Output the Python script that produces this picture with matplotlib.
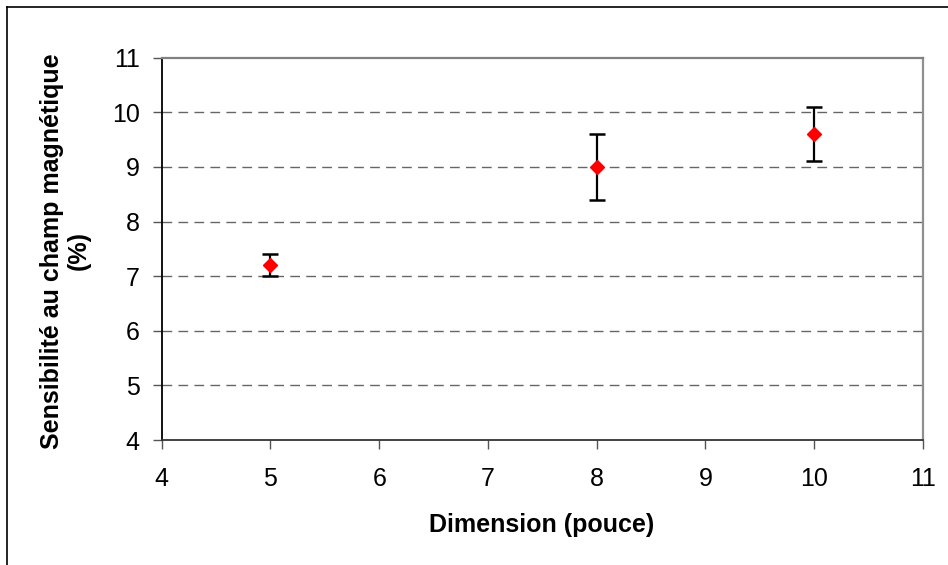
import matplotlib
matplotlib.use("Agg")
import matplotlib.pyplot as plt
from matplotlib.lines import Line2D

plt.rcParams['font.family'] = ['Liberation Sans', 'DejaVu Sans']

dimension = [5, 8, 10]
sensibilite = [7.2, 9.0, 9.6]
erreur = [0.2, 0.6, 0.5]
x_ticks = [4, 5, 6, 7, 8, 9, 10, 11]
y_ticks = [4, 5, 6, 7, 8, 9, 10, 11]

W, H = 948, 565
fig = plt.figure(figsize=(W/100, H/100), dpi=100)
ax = fig.add_axes([161.7/W, 1-440/H, (923-161.7)/W, (440-57.7)/H])

ax.set_xlim(4, 11)
ax.set_ylim(4, 11)
ax.set_xticks(x_ticks)
ax.set_yticks(y_ticks)

for yv in y_ticks[1:-1]:
    ax.axhline(yv, color='#666666', lw=1.0, ls=(0, (7, 4.5)), zorder=1)

ax.errorbar(dimension, sensibilite, yerr=erreur, fmt='none', ecolor='black',
            elinewidth=1.6, capsize=5.8, capthick=1.8, zorder=3)
ax.plot(dimension, sensibilite, ls='none', marker='D', ms=7, color='#ff0000',
        mec='#ff0000', zorder=4)

ax.spines['left'].set_color('black')
ax.spines['left'].set_linewidth(1.3)
ax.spines['bottom'].set_color('#333333')
ax.spines['bottom'].set_linewidth(1.3)
ax.spines['top'].set_color('#808080')
ax.spines['top'].set_linewidth(1.6)
ax.spines['right'].set_color('#909090')
ax.spines['right'].set_linewidth(1.6)

ax.tick_params(axis='both', direction='out', length=6.3, width=1.0,
               color='#555555', labelsize=18)
ax.tick_params(axis='y', pad=9.5)
ax.tick_params(axis='x', pad=13)

fig.text(541.5/W, 1-532/H, 'Dimension (pouce)', fontsize=18, fontweight='bold',
         ha='center', va='baseline')
fig.text(65/W, 1-251/H, 'Sensibilité au champ magnétique\n(%)', fontsize=18,
         fontweight='bold', ha='center', va='center', rotation=90,
         multialignment='center', linespacing=1.15)

fig.add_artist(Line2D([7/W, 7/W], [0, 1-7/H], color='black', lw=1.2,
                      transform=fig.transFigure))
fig.add_artist(Line2D([7/W, 1], [1-7/H, 1-7/H], color='black', lw=1.2,
                      transform=fig.transFigure))

fig.savefig('out.png', dpi=100)
